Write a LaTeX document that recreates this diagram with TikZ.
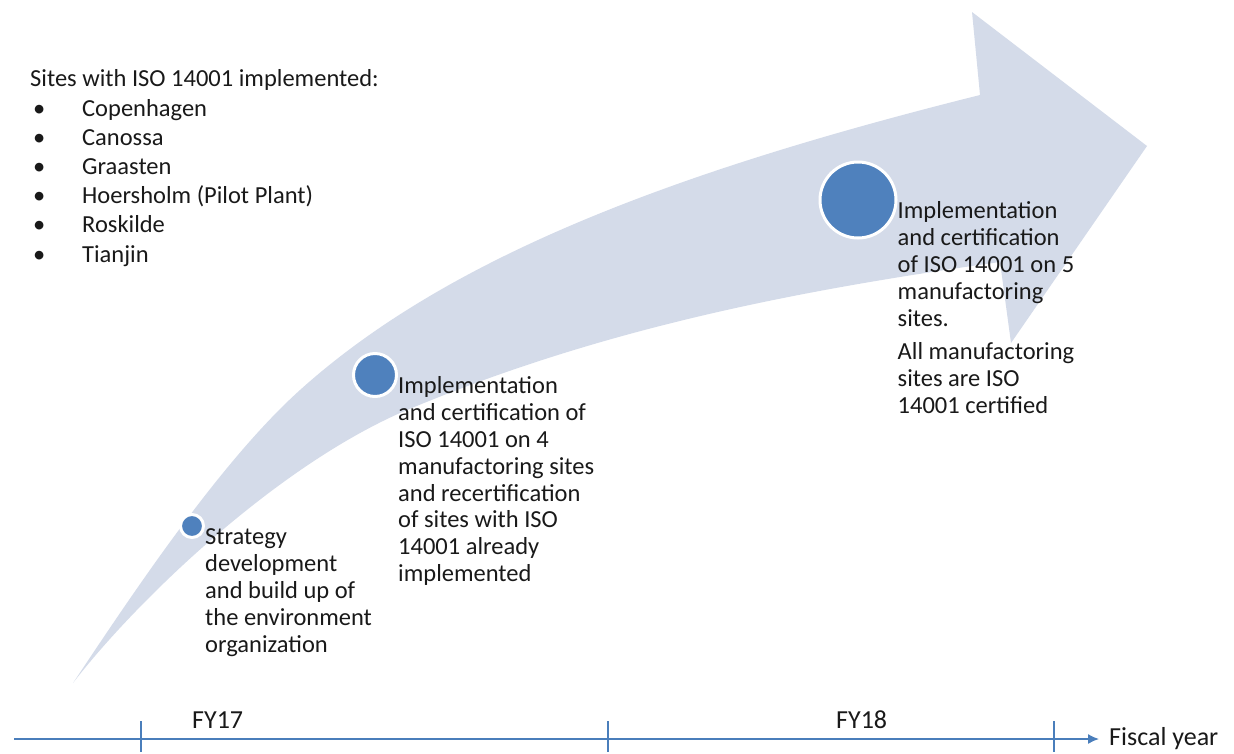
\documentclass[tikz,border=0pt]{standalone}
\usepackage{fontspec}
\setmainfont{Carlito}
\usetikzlibrary{arrows.meta}

\definecolor{bandfill}{RGB}{212,219,233}
\definecolor{dotblue}{RGB}{79,129,189}
\definecolor{axisblue}{RGB}{74,126,187}
\definecolor{inktext}{RGB}{25,25,25}

\tikzstyle{dot} = [circle, fill=dotblue, draw=white, line width=3pt, inner sep=0pt]
\tikzstyle{note} = [anchor=north west, inner sep=0pt, align=left, text=inktext, font=\fontsize{24.5}{26.8}\selectfont]
\tikzstyle{sitelist} = [anchor=north west, inner sep=0pt, align=left, text=inktext, font=\fontsize{24.5}{29.2}\selectfont]
\tikzstyle{year} = [anchor=base west, inner sep=0pt, text=inktext, font=\fontsize{26}{28}\selectfont]
\tikzstyle{axisline} = [draw=axisblue, line width=1.5pt]

\newcommand{\siteitem}[1]{\hspace{3pt}\makebox[49pt][l]{\textbullet}#1}

\begin{document}
\begin{tikzpicture}[x=1pt, y=-1pt]
	\useasboundingbox (0,0) rectangle (1234,753);

	% curved arrow
	\fill[bandfill] (73,683) .. controls (133,593) and (220,462) .. (300,390)
		.. controls (450,255) and (680,170) .. (980,95)
		-- (972,12) -- (1147,146) -- (1011,343) -- (1000,262)
		.. controls (800,290) and (600,328) .. (400,413)
		.. controls (270,471) and (133,605) .. (73,683) -- cycle;

	\node[sitelist] (sites) at (30,66.3) {\strut Sites with ISO 14001 implemented:\\
		\siteitem{Copenhagen}\\
		\siteitem{Canossa}\\
		\siteitem{Graasten}\\
		\siteitem{Hoersholm (Pilot Plant)}\\
		\siteitem{Roskilde}\\
		\siteitem{Tianjin}};

	\node[dot, minimum size=23pt] (c1) at (192,526) {};
	\node[dot, minimum size=43pt] (c2) at (375,375) {};
	\node[dot, minimum size=76pt] (c3) at (858,200) {};

	\node[note] (s1) at (c1.east) {\strut Strategy\\development\\and build up of\\the environment\\organization};
	\node[note] (s2) at (c2.east) {\strut Implementation\\and certification of\\ISO 14001 on 4\\manufactoring sites\\and recertification\\of sites with ISO\\14001 already\\implemented};
	\node[note] (s3) at (c3.east) {\strut Implementation\\and certification\\of ISO 14001 on 5\\manufactoring\\sites.\\[7pt]All manufactoring\\sites are ISO\\14001 certified};

	% fiscal year axis
	\coordinate (ax0) at (14,739);
	\node[anchor=west, inner sep=0pt, text=inktext, font=\fontsize{26}{28}\selectfont] (fy) at (1109,739) {Fiscal year};
	\draw[axisline, -{Latex[length=11pt, width=10pt]}] (ax0) -- ([xshift=-10pt]fy.west);
	\foreach \x in {141,608,1054}
		\draw[axisline] (\x,721) -- (\x,752);
	\node[year] (fy17) at (192,728) {FY17};
	\node[year] (fy18) at (836,728) {FY18};
\end{tikzpicture}
\end{document}
